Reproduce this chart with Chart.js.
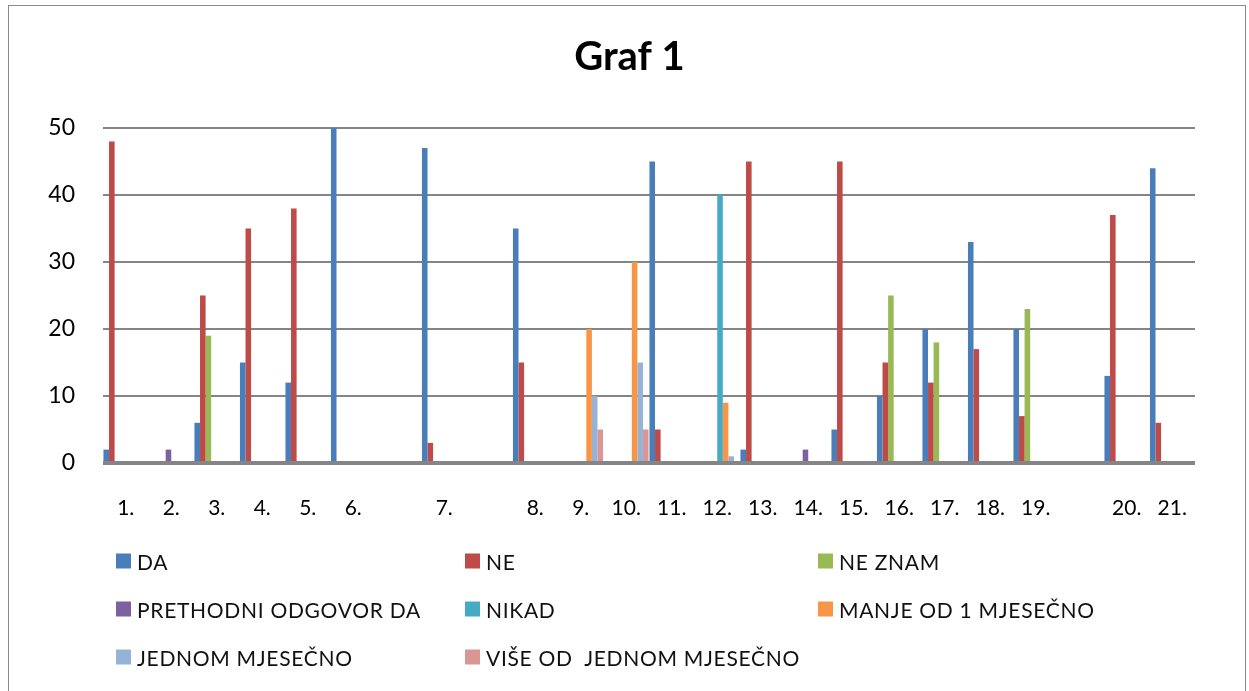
<!DOCTYPE html>
<html lang="hr">
<head>
  <meta charset="UTF-8">
  <title>Graf 1</title>
  <script src="https://cdn.jsdelivr.net/npm/chart.js"></script>
  <style>
    html, body {
      margin: 0;
      padding: 0;
      background: white;
    }
    #wrap {
      position: relative;
      width: 1249px;
      height: 691px;
      font-family: Lato, sans-serif;
    }
    #frame {
      position: absolute;
      left: 8px;
      top: 5px;
      width: 1238px;
      height: 690px;
      border: 1.5px solid #8a8a8a;
      box-sizing: border-box;
    }
    #legend {
      position: absolute;
      left: 0;
      top: 0;
      width: 100%;
      height: 100%;
      pointer-events: none;
    }
    .item {
      position: absolute;
      display: flex;
      align-items: center;
      font-size: 21px;
      letter-spacing: 0.7px;
      color: #111;
      white-space: pre;
      transform: translateY(-50%);
    }
    .item span.box {
      width: 15px;
      height: 15px;
      margin-right: 6px;
    }
  </style>
</head>
<body>
<div id="wrap">
  <div id="frame"></div>
  <canvas id="graf"></canvas>
  <div id="legend"></div>
</div>

<script>
  // kategorije (prazni razmaci kao u originalu)
  const labels = ['1.', '2.', '3.', '4.', '5.', '6.', '', '7.', '', '8.', '9.', '10.', '11.', '12.', '13.', '14.', '15.', '16.', '17.', '18.', '19.', '', '20.', '21.'];

  const da        = [2, null, 6, 15, 12, 50, null, 47, null, 35, null, null, 45, null, 2, null, 5, 10, 20, 33, 20, null, 13, 44];
  const ne        = [48, null, 25, 35, 38, 0, null, 3, null, 15, null, null, 5, null, 45, null, 45, 15, 12, 17, 7, null, 37, 6];
  const neZnam    = [null, null, 19, null, null, null, null, null, null, null, null, null, null, null, null, null, null, 25, 18, null, 23, null, null, null];
  const prethodni = [null, 2, null, null, null, null, null, null, null, null, null, null, null, null, null, 2, null, null, null, null, null, null, null, null];
  const nikad     = [null, null, null, null, null, null, null, null, null, null, null, null, null, 40, null, null, null, null, null, null, null, null, null, null];
  const manje     = [null, null, null, null, null, null, null, null, null, null, 20, 30, null, 9, null, null, null, null, null, null, null, null, null, null];
  const jednom    = [null, null, null, null, null, null, null, null, null, null, 10, 15, null, 1, null, null, null, null, null, null, null, null, null, null];
  const vise      = [null, null, null, null, null, null, null, null, null, null, 5, 5, null, 0, null, null, null, null, null, null, null, null, null, null];

  const seriesNames = ['DA', 'NE', 'NE ZNAM', 'PRETHODNI ODGOVOR DA', 'NIKAD', 'MANJE OD 1 MJESEČNO', 'JEDNOM MJESEČNO', 'VIŠE OD  JEDNOM MJESEČNO'];
  const seriesData = [da, ne, neZnam, prethodni, nikad, manje, jednom, vise];
  const colors = ['#4a7ebb', '#be4b48', '#98b954', '#7d60a0', '#46aac5', '#f79646', '#95b3d7', '#d99694'];

  // legenda: 3 stupca kao u originalu
  const legendCols = [116, 465, 818];
  const legendRows = [561, 609, 657];

  const datasets = seriesNames.map((name, i) => ({
    label: name,
    data: seriesData[i],
    backgroundColor: colors[i],
    borderWidth: 0,
    barPercentage: 1.0,
    categoryPercentage: 0.98
  }));

  const ctx = document.getElementById('graf').getContext('2d');
  const chart = new Chart(ctx, {
    type: 'bar',
    data: { labels: labels, datasets: datasets },
    options: {
      responsive: true,
      maintainAspectRatio: false,
      animation: false,
      layout: {
        padding: { left: 10, right: 0, top: 0, bottom: 173 }
      },
      plugins: {
        legend: { display: false },
        tooltip: { enabled: false },
        title: {
          display: true,
          text: 'Graf 1',
          color: '#000',
          font: { family: 'Lato', size: 40, weight: 'bold' },
          padding: { top: 33, bottom: 47 }
        }
      },
      scales: {
        x: {
          grid: { display: false },
          border: { display: false },
          ticks: {
            autoSkip: false,
            maxRotation: 0,
            color: '#000',
            padding: 25,
            font: { family: 'Lato', size: 21 }
          },
          afterFit: (scale) => { scale.height = 55; }
        },
        y: {
          min: 0,
          max: 50,
          border: { display: false },
          grid: {
            color: '#858585',
            lineWidth: (c) => (c.tick && c.tick.value === 0 ? 4 : 2),
            drawTicks: false
          },
          ticks: {
            stepSize: 10,
            color: '#000',
            padding: 28,
            font: { family: 'Lato', size: 23 }
          },
          afterFit: (scale) => { scale.width = 93; }
        },
        // prazna desna os samo za razmak do ruba
        yRight: {
          position: 'right',
          min: 0,
          max: 50,
          border: { display: false },
          grid: { display: false, drawOnChartArea: false },
          ticks: { display: false },
          afterFit: (scale) => { scale.width = 54; }
        }
      }
    }
  });

  const legendEl = document.getElementById('legend');
  seriesNames.forEach((name, i) => {
    const item = document.createElement('div');
    item.className = 'item';
    item.style.left = legendCols[i % 3] + 'px';
    item.style.top = legendRows[Math.floor(i / 3)] + 'px';
    const box = document.createElement('span');
    box.className = 'box';
    box.style.background = colors[i];
    item.appendChild(box);
    item.appendChild(document.createTextNode(name));
    legendEl.appendChild(item);
  });
</script>
</body>
</html>
